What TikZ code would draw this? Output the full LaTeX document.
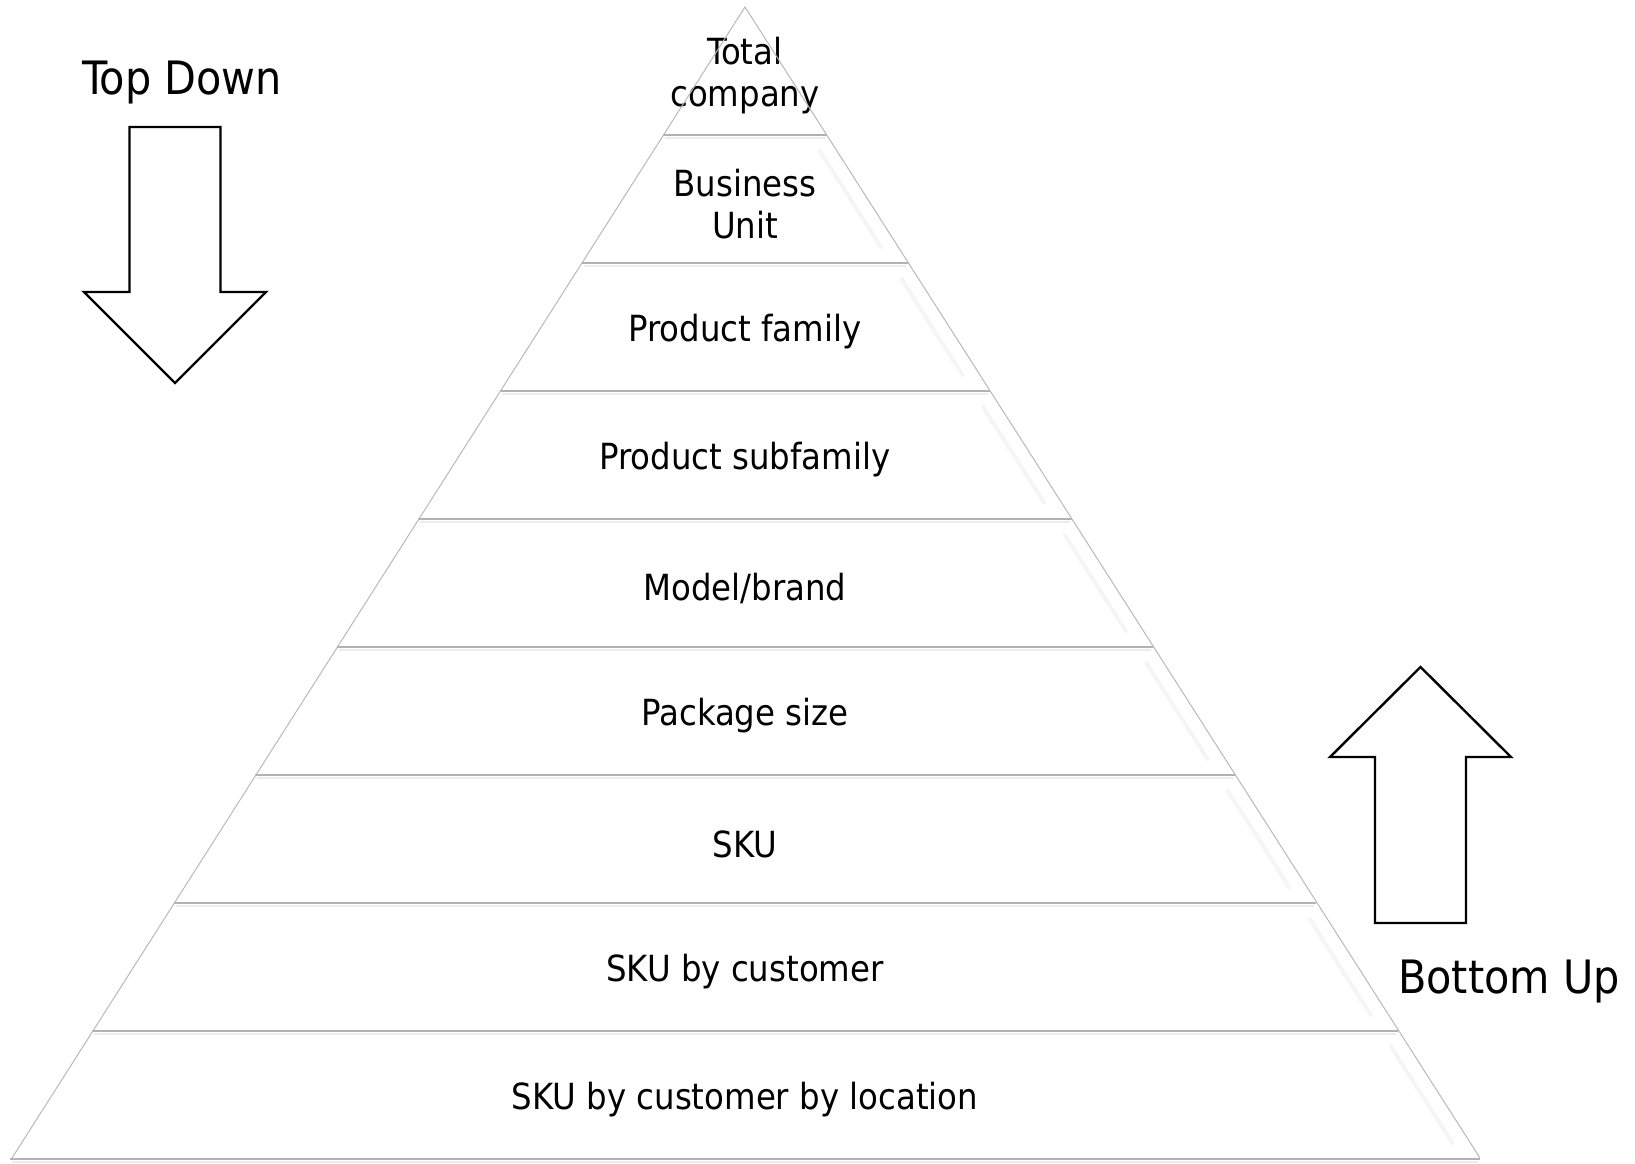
\documentclass[tikz,border=0pt]{standalone}
\usepackage{fontspec}
\setmainfont{DejaVu Sans Condensed}
\usetikzlibrary{calc}

\begin{document}
\begin{tikzpicture}[x=1pt,y=-1pt,
  lvl/.style={font=\fontsize{36}{42}\selectfont,align=center,inner sep=0pt},
  side/.style={font=\fontsize{46}{52}\selectfont,inner sep=0pt},
  sep/.style={draw=gray!60,line width=2.5pt},
  sepshade/.style={draw=gray!15,line width=2.5pt},
  edge/.style={draw=gray!55,line width=1pt},
  bevel/.style={draw=gray!8,line width=4pt,line cap=round},
  bigarrow/.style={draw=black,line width=2.4pt,fill=white,line join=miter}]
  \useasboundingbox (0,0) rectangle (1635,1163);
  % pyramid corners
  \coordinate (apex) at (745,7);
  \coordinate (bl) at (12,1158);
  \coordinate (br) at (1480,1158);
  \fill[white] (apex) -- (br) -- (bl) -- cycle;
  % levels, top to bottom
  \foreach \i/\txt in {0/{Total\\company},1/{Business\\Unit},2/{Product family},
      3/{Product subfamily},4/{Model/brand},5/{Package size},6/{SKU},
      7/{SKU by customer},8/{SKU by customer by location}}{
    \pgfmathsetmacro\yt{7+128*\i}
    \pgfmathsetmacro\yb{135+128*\i}
    % faint bevel on the right side
    \ifnum\i>0
      \pgfmathsetmacro\xa{745+0.6377*(\yt+16-7)-17}
      \pgfmathsetmacro\xb{745+0.6377*(\yb-16-7)-17}
      \draw[bevel] (\xa,\yt+16) -- (\xb,\yb-16);
    \fi
    % lower edge of the level
    \pgfmathsetmacro\w{81.63*(\i+1)}
    \draw[sepshade] (745-\w+2,\yb+3) -- (745+\w-2,\yb+3);
    \draw[sep] (745-\w,\yb) -- (745+\w,\yb);
    \node[lvl] (lvl\i) at (745,76+128*\i) {\txt};
  }
  % outer sides
  \draw[edge] (bl) -- (apex) -- (br);
  % Top Down
  \node[side] (topdown) at (182,83) {Top Down};
  \draw[bigarrow] (129.5,127) -- (220.5,127) -- (220.5,292) -- (266,292)
    -- (175,383) -- (84,292) -- (129.5,292) -- cycle;
  % Bottom Up
  \draw[bigarrow] (1375,923) -- (1466,923) -- (1466,757) -- (1511,757)
    -- (1420.5,667) -- (1330,757) -- (1375,757) -- cycle;
  \node[side] (bottomup) at (1509,981) {Bottom Up};
\end{tikzpicture}
\end{document}
